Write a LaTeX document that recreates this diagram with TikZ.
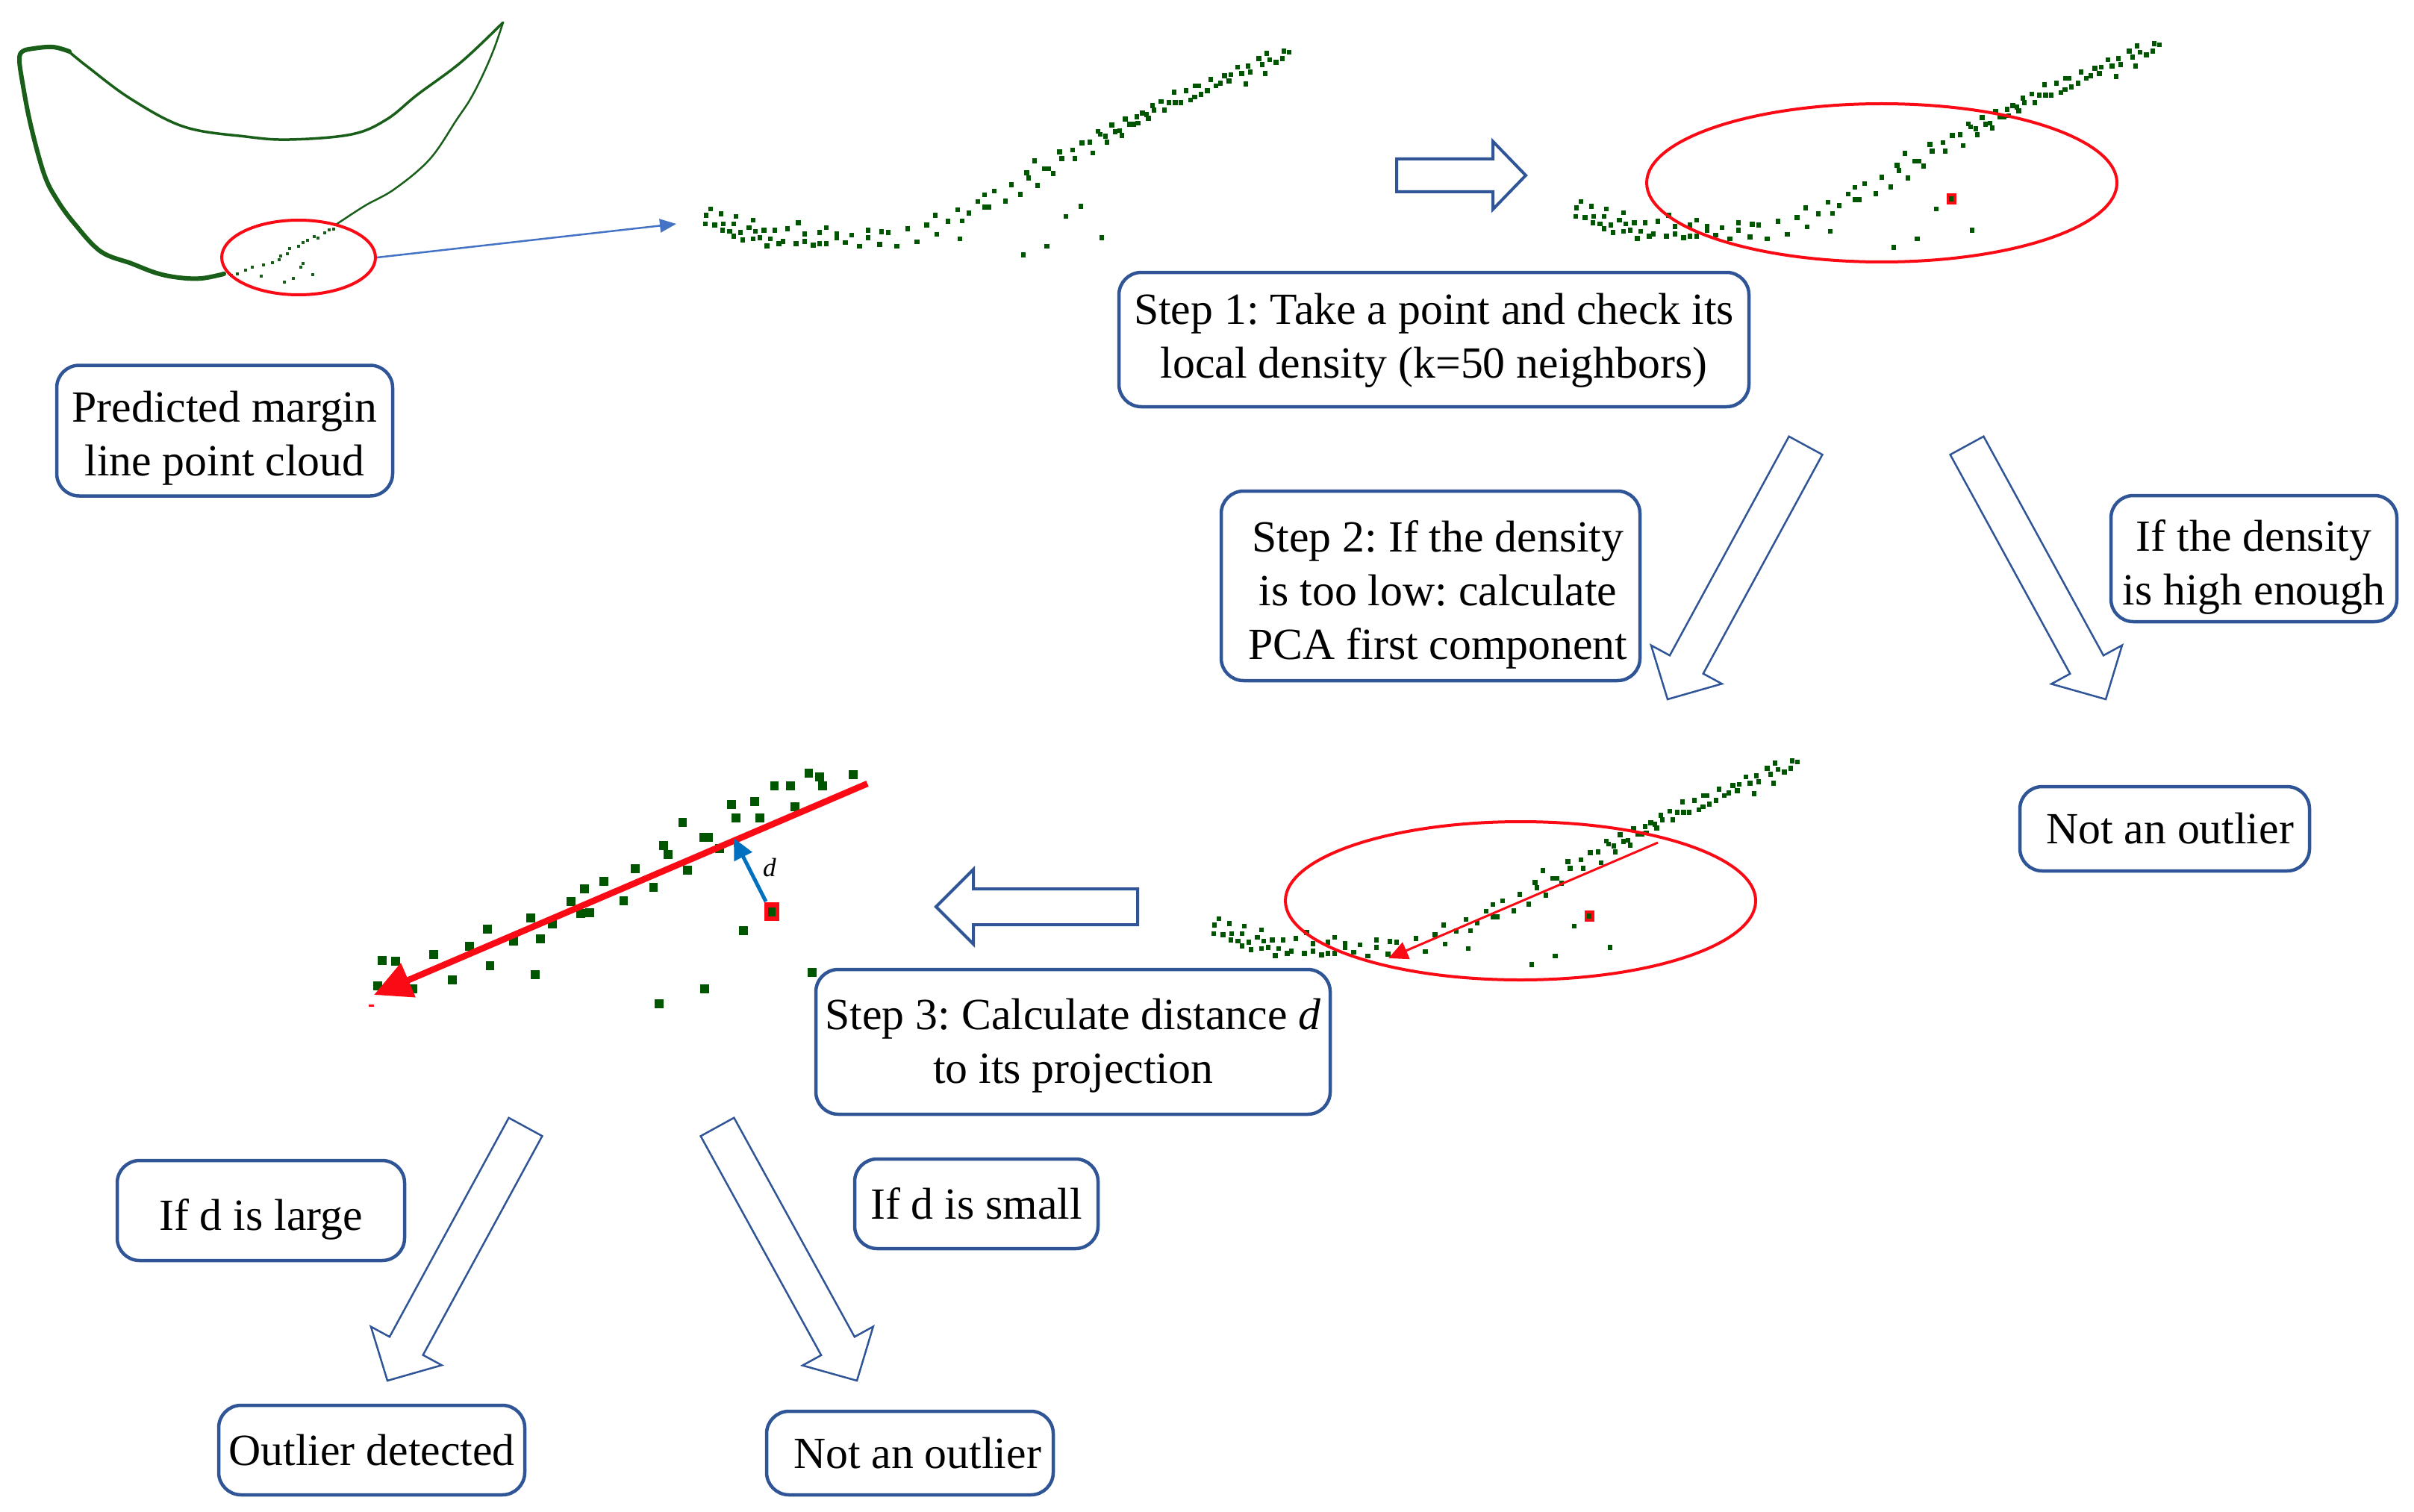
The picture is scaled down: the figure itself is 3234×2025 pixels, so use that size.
\documentclass[tikz,border=0pt]{standalone}
\usepackage{fontspec}
\setmainfont{Liberation Serif}
\frenchspacing
\usetikzlibrary{calc,arrows.meta,shapes.geometric}
\definecolor{boxblue}{RGB}{47,85,151}
\definecolor{cgreen}{RGB}{0,85,0}
\definecolor{lgreen}{RGB}{25,95,25}
\definecolor{thinblue}{RGB}{68,114,196}
\definecolor{dblue}{RGB}{0,112,192}
\definecolor{myred}{RGB}{250,10,20}
\tikzset{
  txtbox/.style={draw=boxblue, line width=0.45mm, rounded corners=3mm, align=center,
    inner sep=0pt, font=\fontsize{17}{20.5}\selectfont, fill=white},
  blockarrow/.style={draw=boxblue, line width=0.25mm, fill=white, line join=miter},
  hblockarrow/.style={draw=boxblue, line width=0.4mm, fill=white, line join=miter},
  redring/.style={ellipse, draw=myred, line width=0.4mm, inner sep=0pt},
}
% tail, tip, shaft half width, head half width, head length, style
\newcommand{\blockarr}[6]{%
  \coordinate (bab) at ($(#2)!#5!(#1)$);
  \draw[#6] ($(#1)!#3!90:(#2)$) -- ($(bab)!#3!90:(#2)$) -- ($(bab)!#4!90:(#2)$)
    -- (#2) -- ($(bab)!#4!-90:(#2)$) -- ($(bab)!#3!-90:(#2)$) -- ($(#1)!#3!-90:(#2)$) -- cycle;}
% lowered (multi-line) text, keeping the box dimensions
\newcommand{\lines}[2]{\raisebox{-#1}[\height][\depth]{\begin{tabular}{@{}c@{}}#2\end{tabular}}}
\def\cloudpts{90/720,80/745,115/740,150/750,190/765,78/780,100/785,120/780,145/780,118/805,135/810,160/815,180/795,195/810,215/805,240/805,270/800,295/775,145/830,165/845,190/840,205/835,230/840,260/850,222/868,250/860,290/860,310/850,310/820,330/865,345/860,360/860,345/815,360/795,385/820,385/835,405/855,420/825,438/870,458/805,458/835,485/862,490/812,505/815,525/870,550/800,572/852,595/785,618/822,615/745,645/770,672/840,667/723,678/768,693/737,714/690,730/713,740/713,730/663,752/648,778/688,792/623,813/661,828/575,832/595,847/527,853/625,870/558,880/558,890/578,905/490,910/518,935/483,940/518,957/455,975/452,982/495,995/408,1000/420,1012/428,1015/452,1027/383,1035/410,1045/405,1050/425,1058/358,1068/380,1078/380,1085/350,1088/375,1098/335,1108/340,1112/355,1122/305,1125/322,1142/288,1150/322,1160/292,1172/250,1175/292,1188/292,1200/245,1210/282,1220/270,1222/225,1230/225,1235/260,1250/245,1258/200,1270/225,1280/215,1290/185,1300/205,1305/180,1320/150,1330/175,1340/218,1345/145,1350/170,1370/115,1378/140,1385/175,1388/95,1395/120,1410/130,1425/115,1428/85,1440/90,820/905,875/870,920/750,955/710,1003/835}
\def\bigpts{1083.5/1036,1098/1041,1142.7/1038,1037.6/1053,1059/1053,1102/1053,979.7/1078,1011/1074,1065/1081,985.7/1096,1018/1096,914.5/1102,943/1122,949/1122,963.7/1137,889/1133,895/1145,921/1166,851/1164,809/1181,875.5/1189,783/1191,835.6/1207,765/1208,777.7/1224,789.7/1223,711/1230,740/1238,653/1245,688/1261,724/1258,629/1268,580.8/1279,656.5/1294,717/1306,606/1313,512/1287,530/1288,506/1321,553/1325,995.8/1247,944/1325,883/1345,1088/1303}
\def\ringpts{318/367,329/362,338/358,350/370,353/355,365/352,374/348,376/343,385/340,388/333,400/330,406/325,412/322,421/317,426/319,435/312,441/308,447/307,406/353,403/358,419/368,393/373,381/378,300/366,310/369}
\begin{document}
\begin{tikzpicture}[x=0.1mm, y=-0.1mm]
\useasboundingbox (0,0) rectangle (3234,2025);

% ---------- top-left margin line point cloud ----------
\draw[lgreen, line width=0.35mm, line cap=round] plot[smooth, tension=0.6] coordinates
  {(91,68) (118,90) (176,133) (247,170) (329,183) (388,187) (471,180) (518,160) (559,127) (618,83) (674,30)};
\draw[lgreen, line width=0.25mm, line cap=round] plot[smooth, tension=0.6] coordinates
  {(674,30) (662,65) (647,100) (630,133) (612,160) (576,213) (529,253) (490,275) (459,295) (450,301)};
\draw[lgreen, line width=0.6mm, line cap=round] plot[smooth, tension=0.6] coordinates
  {(300,367) (270,373) (240,372) (210,366) (176,353) (135,337) (100,300) (76,267) (59,233) (41,167) (30,110) (26,80) (30,69) (45,65) (71,63) (93,69)};
\foreach \a/\b in \ringpts {\fill[lgreen] (\a-1.8,\b-2) rectangle (\a+1.8,\b+2);}
\node[redring, minimum width=20.6mm, minimum height=10mm] (ring1) at (400,345) {};
\coordinate (zoomtip) at (906,300);
\draw[thinblue, line width=0.25mm, -{Triangle[length=2.2mm,width=1.8mm]}] (ring1.east) -- (zoomtip);

% ---------- point clouds ----------
\begin{scope}[shift={(900,40)}, xscale=0.5741, yscale=0.3333]
  \foreach \a/\b in \cloudpts {\fill[cgreen] (\a-5.5,\b-10) rectangle (\a+5.5,\b+10);}
\end{scope}
\begin{scope}[shift={(2066,30)}, xscale=0.5741, yscale=0.3333]
  \fill[myred] (944,688) rectangle (966,732);
  \foreach \a/\b in \cloudpts {\fill[cgreen] (\a-5.5,\b-10) rectangle (\a+5.5,\b+10);}
\end{scope}
\begin{scope}[shift={(1581,991)}, xscale=0.5741, yscale=0.3333]
  \fill[myred] (944,688) rectangle (966,732);
  \foreach \a/\b in \cloudpts {\fill[cgreen] (\a-5.5,\b-10) rectangle (\a+5.5,\b+10);}
\end{scope}
\node[redring, minimum width=63mm, minimum height=21.2mm] (ring2) at (2521,245) {};
\node[redring, minimum width=63mm, minimum height=21.2mm] (ring3) at (2037,1207) {};
\coordinate (pcaS) at (2221,1129);
\coordinate (pcaE) at (1860,1284);
\draw[myred, line width=0.3mm, -{Triangle[length=2.6mm,width=2.4mm]}] (pcaS) -- (pcaE);

% ---------- enlarged view ----------
\foreach \a/\b in \bigpts {\fill[cgreen] (\a-5.8,\b-5.8) rectangle (\a+5.8,\b+5.8);}
\fill[myred] (1023.5,1209) rectangle (1044,1234);
\fill[cgreen] (1029,1216) rectangle (1038.5,1228);
\fill[myred] (494,1346) rectangle (501,1349);
\coordinate (bigS) at (1162,1050);
\coordinate (bigE) at (501,1333);
\draw[myred, line width=0.85mm, -{Triangle[length=5mm,width=4.8mm]}] (bigS) -- (bigE);
\coordinate (dS) at (1026,1208);
\coordinate (dE) at (983,1123);
\draw[dblue, line width=0.5mm, -{Triangle[length=2.8mm,width=2.6mm]}] (dS) -- (dE);
\node[font=\fontsize{10}{12}\selectfont\itshape, inner sep=0pt] (dlab) at (1031,1162) {d};

% ---------- block arrows ----------
\coordinate (a1t) at (1871,235); \coordinate (a1p) at (2044,235);
\blockarr{a1t}{a1p}{2.2mm}{4.55mm}{4.4mm}{hblockarrow}
\coordinate (a2t) at (1524,1215); \coordinate (a2p) at (1254,1215);
\blockarr{a2t}{a2p}{2.4mm}{5mm}{5mm}{hblockarrow}
\coordinate (a3t) at (2419,597); \coordinate (a3p) at (2234,937);
\blockarr{a3t}{a3p}{2.55mm}{5.4mm}{5.3mm}{blockarrow}
\coordinate (a4t) at (2635,597); \coordinate (a4p) at (2821,937);
\blockarr{a4t}{a4p}{2.55mm}{5.4mm}{5.3mm}{blockarrow}
\coordinate (a5t) at (704,1510); \coordinate (a5p) at (519,1850);
\blockarr{a5t}{a5p}{2.55mm}{5.4mm}{5.3mm}{blockarrow}
\coordinate (a6t) at (961,1510); \coordinate (a6p) at (1148,1850);
\blockarr{a6t}{a6p}{2.55mm}{5.4mm}{5.3mm}{blockarrow}

% ---------- text boxes ----------
\node[txtbox, minimum width=45mm, minimum height=17.5mm] (pred) at (301,577)
  {\lines{1mm}{Predicted margin\\line point cloud}};
\node[txtbox, minimum width=84.4mm, minimum height=18mm] (step1) at (1921,455)
  {\lines{0.1mm}{Step 1: Take a point and check its\\local density (k=50 neighbors)}};
\node[txtbox, minimum width=56.1mm, minimum height=25.4mm] (step2) at (1916.5,785)
  {\hspace*{2mm}\lines{1.2mm}{Step 2: If the density\\is too low: calculate\\PCA first component}};
\node[txtbox, minimum width=38.3mm, minimum height=16.9mm] (high) at (3019.5,748.5)
  {\lines{1.2mm}{If the density\\is high enough}};
\node[txtbox, minimum width=38.8mm, minimum height=11.3mm] (notout1) at (2900,1110.5)
  {\hspace*{1.4mm}Not an outlier};
\node[txtbox, minimum width=68.9mm, minimum height=19.4mm] (step3) at (1437.5,1396)
  {\lines{0.5mm}{Step 3: Calculate distance \textit{d}\\to its projection}};
\node[txtbox, minimum width=38.5mm, minimum height=13.4mm] (large) at (349.5,1622)
  {\raisebox{-1.2mm}[\height][\depth]{If d is large}};
\node[txtbox, minimum width=32.6mm, minimum height=12mm] (small) at (1308,1613)
  {If d is small};
\node[txtbox, minimum width=41mm, minimum height=12mm] (outdet) at (498,1943)
  {Outlier detected};
\node[txtbox, minimum width=38.4mm, minimum height=11.2mm] (notout2) at (1219,1947)
  {\hspace*{2mm}Not an outlier};
\end{tikzpicture}
\end{document}
